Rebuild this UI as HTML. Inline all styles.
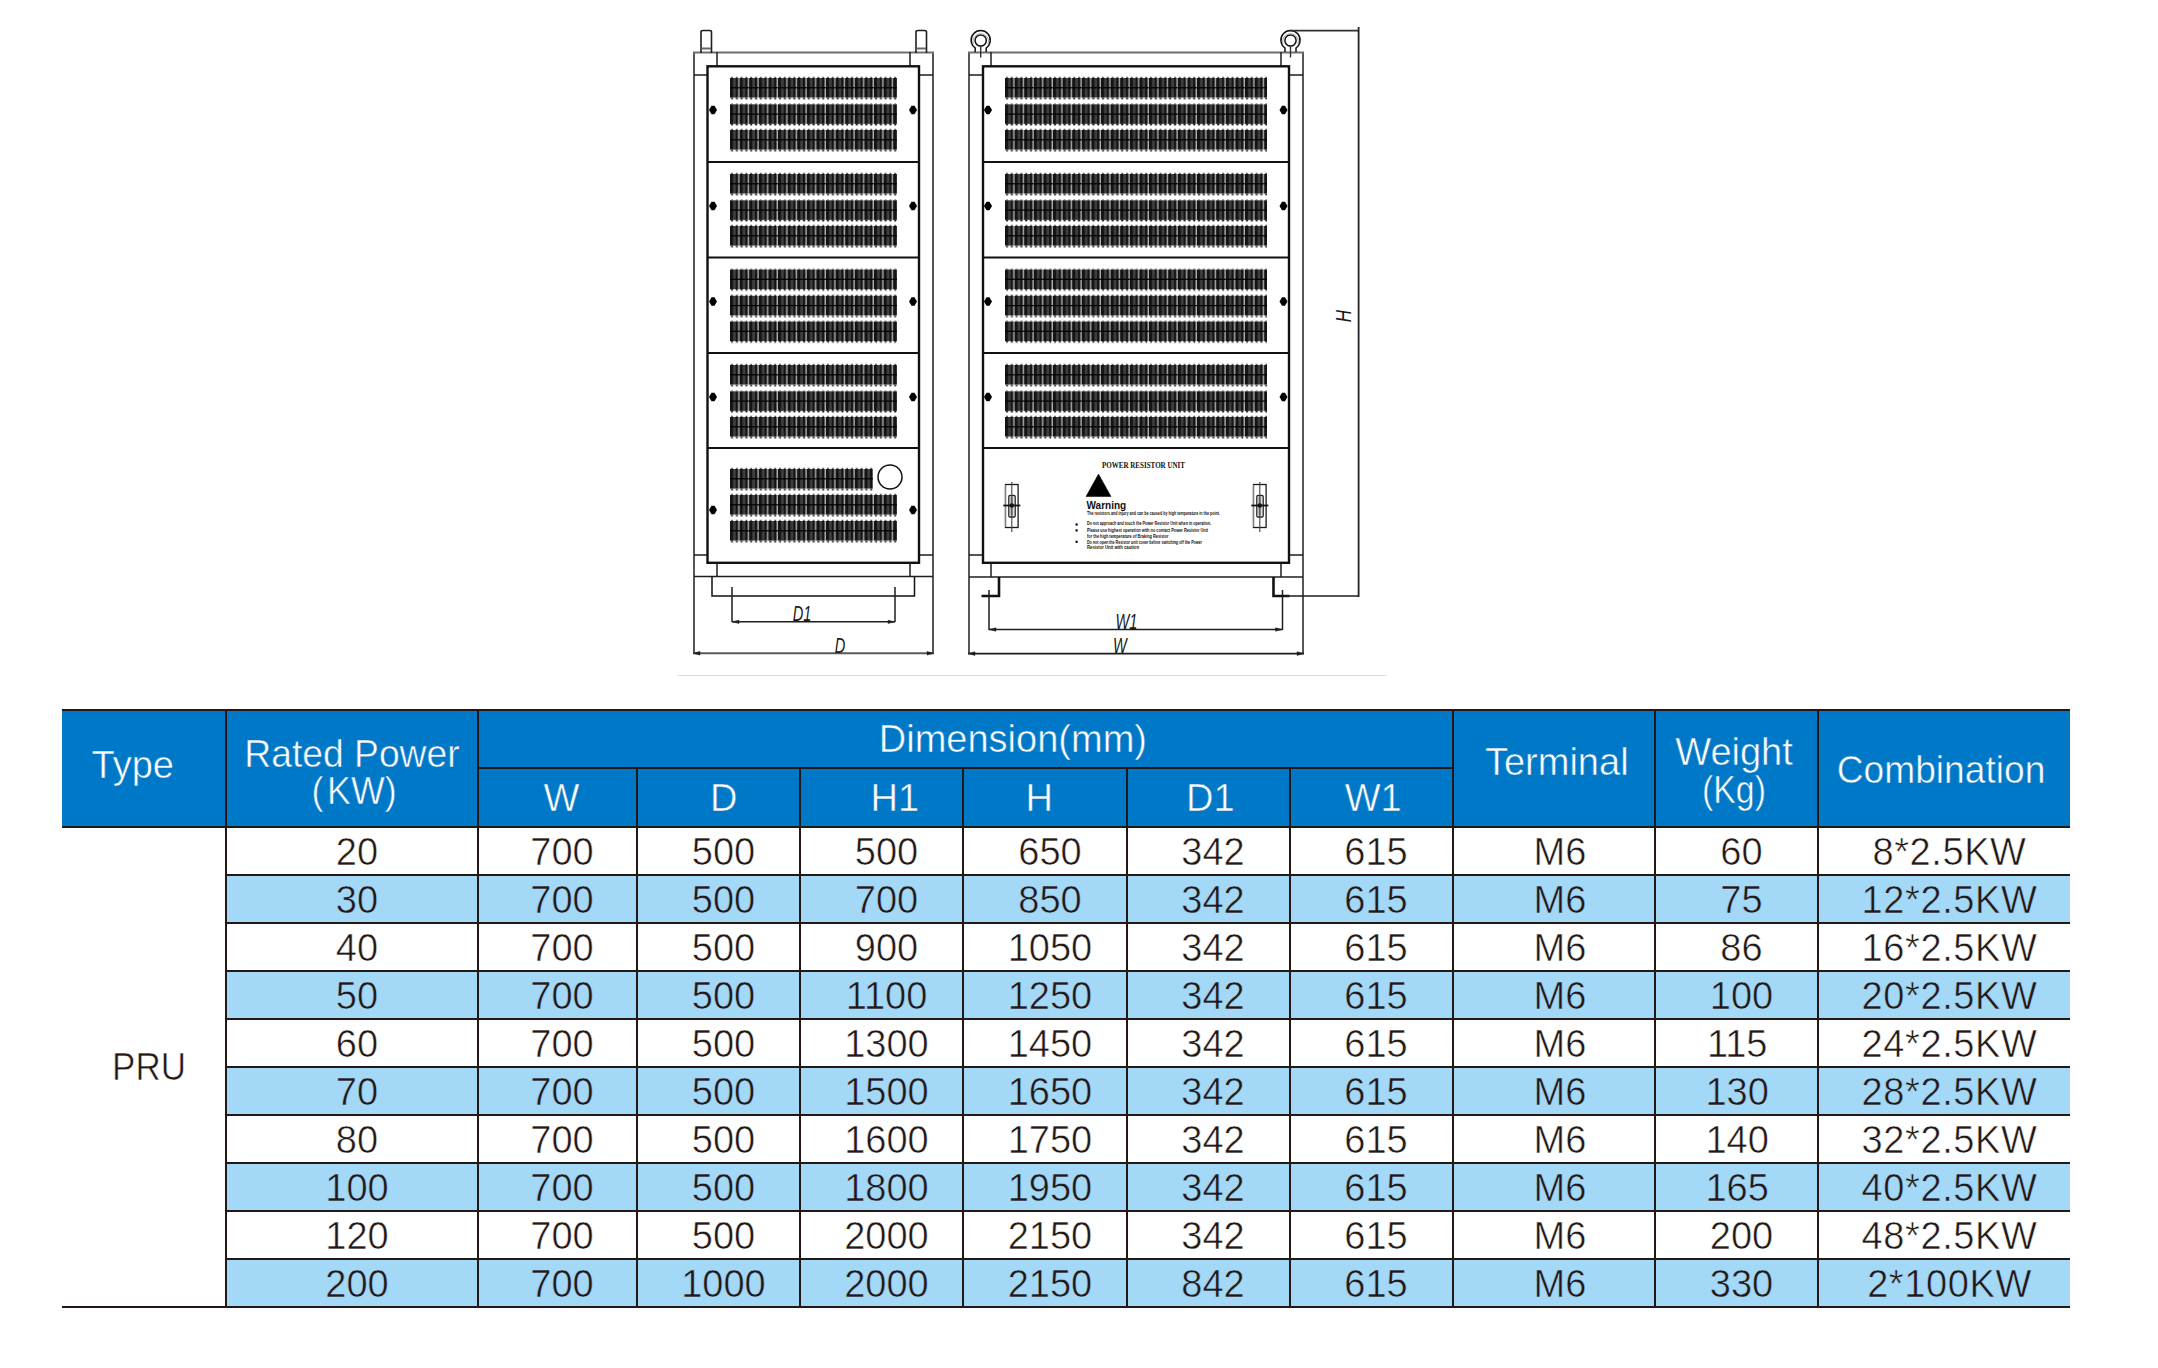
<!DOCTYPE html><html><head><meta charset="utf-8"><style>
html,body{margin:0;padding:0;background:#fff;}
body{width:2158px;height:1368px;position:relative;overflow:hidden;font-family:"Liberation Sans",sans-serif;}
.r{position:absolute;}
.t{position:absolute;width:1000px;text-align:center;white-space:nowrap;font-size:38px;line-height:38px;}
.w{color:#fff;-webkit-text-stroke:0.55px #0078c8;}
.k{color:#231815;-webkit-text-stroke:0.55px #fff;}
.kb{-webkit-text-stroke-color:#a3d9f7;}
</style></head><body>
<div class="r" style="left:62px;top:709px;width:2008px;height:119px;background:#0078c8"></div>
<div class="r" style="left:226px;top:874px;width:1844px;height:48px;background:#a3d9f7"></div>
<div class="r" style="left:226px;top:970px;width:1844px;height:48px;background:#a3d9f7"></div>
<div class="r" style="left:226px;top:1066px;width:1844px;height:48px;background:#a3d9f7"></div>
<div class="r" style="left:226px;top:1162px;width:1844px;height:48px;background:#a3d9f7"></div>
<div class="r" style="left:226px;top:1258px;width:1844px;height:48px;background:#a3d9f7"></div>
<div class="r" style="left:62px;top:709px;width:2008px;height:2px;background:#231815"></div>
<div class="r" style="left:477px;top:767px;width:976px;height:2px;background:#231815"></div>
<div class="r" style="left:62px;top:826px;width:2008px;height:2px;background:#231815"></div>
<div class="r" style="left:225px;top:874px;width:1845px;height:2px;background:#231815"></div>
<div class="r" style="left:225px;top:922px;width:1845px;height:2px;background:#231815"></div>
<div class="r" style="left:225px;top:970px;width:1845px;height:2px;background:#231815"></div>
<div class="r" style="left:225px;top:1018px;width:1845px;height:2px;background:#231815"></div>
<div class="r" style="left:225px;top:1066px;width:1845px;height:2px;background:#231815"></div>
<div class="r" style="left:225px;top:1114px;width:1845px;height:2px;background:#231815"></div>
<div class="r" style="left:225px;top:1162px;width:1845px;height:2px;background:#231815"></div>
<div class="r" style="left:225px;top:1210px;width:1845px;height:2px;background:#231815"></div>
<div class="r" style="left:225px;top:1258px;width:1845px;height:2px;background:#231815"></div>
<div class="r" style="left:62px;top:1306px;width:2008px;height:2px;background:#231815"></div>
<div class="r" style="left:225px;top:709px;width:2px;height:599px;background:#231815"></div>
<div class="r" style="left:477px;top:709px;width:2px;height:599px;background:#231815"></div>
<div class="r" style="left:1452px;top:709px;width:2px;height:599px;background:#231815"></div>
<div class="r" style="left:1654px;top:709px;width:2px;height:599px;background:#231815"></div>
<div class="r" style="left:1817px;top:709px;width:2px;height:599px;background:#231815"></div>
<div class="r" style="left:636px;top:767px;width:2px;height:541px;background:#231815"></div>
<div class="r" style="left:799px;top:767px;width:2px;height:541px;background:#231815"></div>
<div class="r" style="left:962px;top:767px;width:2px;height:541px;background:#231815"></div>
<div class="r" style="left:1126px;top:767px;width:2px;height:541px;background:#231815"></div>
<div class="r" style="left:1289px;top:767px;width:2px;height:541px;background:#231815"></div>
<div class="t w" style="left:-367.2px;top:746px;">Type</div>
<div class="t w" style="left:-148.4px;top:734.7px;transform:scaleX(0.98);">Rated Power</div>
<div class="t w" style="left:-146.5px;top:771.8px;transform:scaleX(0.94);">(<span style="margin-left:4px">KW)</span></div>
<div class="t w" style="left:512.9px;top:720px;">Dimension(mm)</div>
<div class="t w" style="left:61.5px;top:778.7px;">W</div>
<div class="t w" style="left:223.7px;top:778.7px;">D</div>
<div class="t w" style="left:394.8px;top:778.7px;">H1</div>
<div class="t w" style="left:539.2px;top:778.7px;">H</div>
<div class="t w" style="left:710.3px;top:778.7px;">D1</div>
<div class="t w" style="left:873.2px;top:778.7px;">W1</div>
<div class="t w" style="left:1056.8px;top:743px;">Terminal</div>
<div class="t w" style="left:1234px;top:733px;">Weight</div>
<div class="t w" style="left:1234px;top:771px;transform:scaleX(0.89);">(Kg)</div>
<div class="t w" style="left:1441.1px;top:751px;transform:scaleX(0.978);">Combination</div>
<div class="t k" style="left:-350.75px;top:1047.7px;transform:scaleX(0.92);">PRU</div>
<div class="t k" style="left:-143px;top:832.6px;">20</div>
<div class="t k" style="left:62px;top:832.6px;">700</div>
<div class="t k" style="left:223.5px;top:832.6px;">500</div>
<div class="t k" style="left:386.5px;top:832.6px;">500</div>
<div class="t k" style="left:550px;top:832.6px;">650</div>
<div class="t k" style="left:713px;top:832.6px;">342</div>
<div class="t k" style="left:876px;top:832.6px;">615</div>
<div class="t k" style="left:1060px;top:832.6px;">M6</div>
<div class="t k" style="left:1241.5px;top:832.6px;">60</div>
<div class="t k" style="left:1449.5px;top:832.6px;letter-spacing:0.6px;">8*2.5KW</div>
<div class="t k kb" style="left:-143px;top:880.6px;">30</div>
<div class="t k kb" style="left:62px;top:880.6px;">700</div>
<div class="t k kb" style="left:223.5px;top:880.6px;">500</div>
<div class="t k kb" style="left:386.5px;top:880.6px;">700</div>
<div class="t k kb" style="left:550px;top:880.6px;">850</div>
<div class="t k kb" style="left:713px;top:880.6px;">342</div>
<div class="t k kb" style="left:876px;top:880.6px;">615</div>
<div class="t k kb" style="left:1060px;top:880.6px;">M6</div>
<div class="t k kb" style="left:1241.5px;top:880.6px;">75</div>
<div class="t k kb" style="left:1449.5px;top:880.6px;letter-spacing:0.6px;">12*2.5KW</div>
<div class="t k" style="left:-143px;top:928.6px;">40</div>
<div class="t k" style="left:62px;top:928.6px;">700</div>
<div class="t k" style="left:223.5px;top:928.6px;">500</div>
<div class="t k" style="left:386.5px;top:928.6px;">900</div>
<div class="t k" style="left:550px;top:928.6px;">1050</div>
<div class="t k" style="left:713px;top:928.6px;">342</div>
<div class="t k" style="left:876px;top:928.6px;">615</div>
<div class="t k" style="left:1060px;top:928.6px;">M6</div>
<div class="t k" style="left:1241.5px;top:928.6px;">86</div>
<div class="t k" style="left:1449.5px;top:928.6px;letter-spacing:0.6px;">16*2.5KW</div>
<div class="t k kb" style="left:-143px;top:976.6px;">50</div>
<div class="t k kb" style="left:62px;top:976.6px;">700</div>
<div class="t k kb" style="left:223.5px;top:976.6px;">500</div>
<div class="t k kb" style="left:386.5px;top:976.6px;">1100</div>
<div class="t k kb" style="left:550px;top:976.6px;">1250</div>
<div class="t k kb" style="left:713px;top:976.6px;">342</div>
<div class="t k kb" style="left:876px;top:976.6px;">615</div>
<div class="t k kb" style="left:1060px;top:976.6px;">M6</div>
<div class="t k kb" style="left:1241.5px;top:976.6px;">100</div>
<div class="t k kb" style="left:1449.5px;top:976.6px;letter-spacing:0.6px;">20*2.5KW</div>
<div class="t k" style="left:-143px;top:1024.6px;">60</div>
<div class="t k" style="left:62px;top:1024.6px;">700</div>
<div class="t k" style="left:223.5px;top:1024.6px;">500</div>
<div class="t k" style="left:386.5px;top:1024.6px;">1300</div>
<div class="t k" style="left:550px;top:1024.6px;">1450</div>
<div class="t k" style="left:713px;top:1024.6px;">342</div>
<div class="t k" style="left:876px;top:1024.6px;">615</div>
<div class="t k" style="left:1060px;top:1024.6px;">M6</div>
<div class="t k" style="left:1237.2px;top:1024.6px;">115</div>
<div class="t k" style="left:1449.5px;top:1024.6px;letter-spacing:0.6px;">24*2.5KW</div>
<div class="t k kb" style="left:-143px;top:1072.6px;">70</div>
<div class="t k kb" style="left:62px;top:1072.6px;">700</div>
<div class="t k kb" style="left:223.5px;top:1072.6px;">500</div>
<div class="t k kb" style="left:386.5px;top:1072.6px;">1500</div>
<div class="t k kb" style="left:550px;top:1072.6px;">1650</div>
<div class="t k kb" style="left:713px;top:1072.6px;">342</div>
<div class="t k kb" style="left:876px;top:1072.6px;">615</div>
<div class="t k kb" style="left:1060px;top:1072.6px;">M6</div>
<div class="t k kb" style="left:1237.2px;top:1072.6px;">130</div>
<div class="t k kb" style="left:1449.5px;top:1072.6px;letter-spacing:0.6px;">28*2.5KW</div>
<div class="t k" style="left:-143px;top:1120.6px;">80</div>
<div class="t k" style="left:62px;top:1120.6px;">700</div>
<div class="t k" style="left:223.5px;top:1120.6px;">500</div>
<div class="t k" style="left:386.5px;top:1120.6px;">1600</div>
<div class="t k" style="left:550px;top:1120.6px;">1750</div>
<div class="t k" style="left:713px;top:1120.6px;">342</div>
<div class="t k" style="left:876px;top:1120.6px;">615</div>
<div class="t k" style="left:1060px;top:1120.6px;">M6</div>
<div class="t k" style="left:1237.2px;top:1120.6px;">140</div>
<div class="t k" style="left:1449.5px;top:1120.6px;letter-spacing:0.6px;">32*2.5KW</div>
<div class="t k kb" style="left:-143px;top:1168.6px;">100</div>
<div class="t k kb" style="left:62px;top:1168.6px;">700</div>
<div class="t k kb" style="left:223.5px;top:1168.6px;">500</div>
<div class="t k kb" style="left:386.5px;top:1168.6px;">1800</div>
<div class="t k kb" style="left:550px;top:1168.6px;">1950</div>
<div class="t k kb" style="left:713px;top:1168.6px;">342</div>
<div class="t k kb" style="left:876px;top:1168.6px;">615</div>
<div class="t k kb" style="left:1060px;top:1168.6px;">M6</div>
<div class="t k kb" style="left:1237.2px;top:1168.6px;">165</div>
<div class="t k kb" style="left:1449.5px;top:1168.6px;letter-spacing:0.6px;">40*2.5KW</div>
<div class="t k" style="left:-143px;top:1216.6px;">120</div>
<div class="t k" style="left:62px;top:1216.6px;">700</div>
<div class="t k" style="left:223.5px;top:1216.6px;">500</div>
<div class="t k" style="left:386.5px;top:1216.6px;">2000</div>
<div class="t k" style="left:550px;top:1216.6px;">2150</div>
<div class="t k" style="left:713px;top:1216.6px;">342</div>
<div class="t k" style="left:876px;top:1216.6px;">615</div>
<div class="t k" style="left:1060px;top:1216.6px;">M6</div>
<div class="t k" style="left:1241.5px;top:1216.6px;">200</div>
<div class="t k" style="left:1449.5px;top:1216.6px;letter-spacing:0.6px;">48*2.5KW</div>
<div class="t k kb" style="left:-143px;top:1264.6px;">200</div>
<div class="t k kb" style="left:62px;top:1264.6px;">700</div>
<div class="t k kb" style="left:223.5px;top:1264.6px;">1000</div>
<div class="t k kb" style="left:386.5px;top:1264.6px;">2000</div>
<div class="t k kb" style="left:550px;top:1264.6px;">2150</div>
<div class="t k kb" style="left:713px;top:1264.6px;">842</div>
<div class="t k kb" style="left:876px;top:1264.6px;">615</div>
<div class="t k kb" style="left:1060px;top:1264.6px;">M6</div>
<div class="t k kb" style="left:1241.5px;top:1264.6px;">330</div>
<div class="t k kb" style="left:1449.5px;top:1264.6px;letter-spacing:0.6px;">2*100KW</div>
<svg class="r" style="left:0;top:0" width="2158" height="1368" viewBox="0 0 2158 1368">
<defs>
<pattern id="lv" x="0" y="0" width="9.6" height="30" patternUnits="userSpaceOnUse"><rect x="0" y="0" width="9.6" height="30" fill="#141414"/><rect x="3.1" y="0" width="2.6" height="30" fill="#404040"/><rect x="8.2" y="0" width="1.3" height="30" fill="#c0c0c0"/></pattern>
<pattern id="lu" x="0" y="-1.2" width="4.8" height="1.2" patternUnits="userSpaceOnUse"><path d="M0.7,1.2 L2,0 L3.3,1.2 Z" fill="#333"/></pattern>
<pattern id="lt" x="0" y="19.6" width="4.8" height="2" patternUnits="userSpaceOnUse"><path d="M0.4,0 L3.6,0 L2,2 Z" fill="#1a1a1a"/></pattern>
</defs>
<line x1="694" y1="52" x2="694" y2="654" stroke="#1e1e1e" stroke-width="1.5"/>
<line x1="933" y1="52" x2="933" y2="654" stroke="#1e1e1e" stroke-width="1.5"/>
<line x1="693" y1="52.5" x2="934" y2="52.5" stroke="#707070" stroke-width="2.2"/>
<line x1="717" y1="52" x2="717" y2="66" stroke="#1e1e1e" stroke-width="1.5"/>
<line x1="910" y1="52" x2="910" y2="66" stroke="#1e1e1e" stroke-width="1.5"/>
<line x1="694" y1="75" x2="707" y2="75" stroke="#1e1e1e" stroke-width="1.5"/>
<line x1="919" y1="75" x2="933" y2="75" stroke="#1e1e1e" stroke-width="1.5"/>
<line x1="694" y1="555" x2="707" y2="555" stroke="#1e1e1e" stroke-width="1.5"/>
<line x1="919" y1="555" x2="933" y2="555" stroke="#1e1e1e" stroke-width="1.5"/>
<path d="M701,53 V32 Q701,30.5 703,30.5 H709.5 Q711.5,30.5 711.5,32 V53" stroke="#1e1e1e" stroke-width="1.6" fill="none"/>
<line x1="701.5" y1="48.5" x2="711" y2="48.5" stroke="#666" stroke-width="2"/>
<path d="M916,53 V32 Q916,30.5 918,30.5 H924.5 Q926.5,30.5 926.5,32 V53" stroke="#1e1e1e" stroke-width="1.6" fill="none"/>
<line x1="916.5" y1="48.5" x2="926" y2="48.5" stroke="#666" stroke-width="2"/>
<rect x="707.5" y="66.3" width="211.5" height="496.5" fill="none" stroke="#111" stroke-width="2.4"/>
<line x1="707" y1="162" x2="919" y2="162" stroke="#111" stroke-width="2.2"/>
<line x1="707" y1="257.5" x2="919" y2="257.5" stroke="#111" stroke-width="2.2"/>
<line x1="707" y1="353" x2="919" y2="353" stroke="#111" stroke-width="2.2"/>
<line x1="707" y1="448" x2="919" y2="448" stroke="#111" stroke-width="2.2"/>
<g transform="translate(730,78)"><rect x="0" y="0" width="167" height="19.6" fill="url(#lv)"/><rect x="0" y="9.20" width="167" height="1.2" fill="#000"/><rect x="0" y="19.6" width="167" height="2" fill="url(#lt)"/><rect x="0" y="-1.2" width="167" height="1.2" fill="url(#lu)"/></g>
<g transform="translate(730,104.3)"><rect x="0" y="0" width="167" height="19.6" fill="url(#lv)"/><rect x="0" y="9.20" width="167" height="1.2" fill="#000"/><rect x="0" y="19.6" width="167" height="2" fill="url(#lt)"/><rect x="0" y="-1.2" width="167" height="1.2" fill="url(#lu)"/></g>
<g transform="translate(730,130)"><rect x="0" y="0" width="167" height="19.6" fill="url(#lv)"/><rect x="0" y="9.20" width="167" height="1.2" fill="#000"/><rect x="0" y="19.6" width="167" height="2" fill="url(#lt)"/><rect x="0" y="-1.2" width="167" height="1.2" fill="url(#lu)"/></g>
<path d="M709,110 L711.5,105.8 H714.5 L717,110 L714.5,114.2 H711.5 Z" fill="#000"/>
<path d="M909,110 L911.5,105.8 H914.5 L917,110 L914.5,114.2 H911.5 Z" fill="#000"/>
<g transform="translate(730,174)"><rect x="0" y="0" width="167" height="19.6" fill="url(#lv)"/><rect x="0" y="9.20" width="167" height="1.2" fill="#000"/><rect x="0" y="19.6" width="167" height="2" fill="url(#lt)"/><rect x="0" y="-1.2" width="167" height="1.2" fill="url(#lu)"/></g>
<g transform="translate(730,200.3)"><rect x="0" y="0" width="167" height="19.6" fill="url(#lv)"/><rect x="0" y="9.20" width="167" height="1.2" fill="#000"/><rect x="0" y="19.6" width="167" height="2" fill="url(#lt)"/><rect x="0" y="-1.2" width="167" height="1.2" fill="url(#lu)"/></g>
<g transform="translate(730,226)"><rect x="0" y="0" width="167" height="19.6" fill="url(#lv)"/><rect x="0" y="9.20" width="167" height="1.2" fill="#000"/><rect x="0" y="19.6" width="167" height="2" fill="url(#lt)"/><rect x="0" y="-1.2" width="167" height="1.2" fill="url(#lu)"/></g>
<path d="M709,206 L711.5,201.8 H714.5 L717,206 L714.5,210.2 H711.5 Z" fill="#000"/>
<path d="M909,206 L911.5,201.8 H914.5 L917,206 L914.5,210.2 H911.5 Z" fill="#000"/>
<g transform="translate(730,269.5)"><rect x="0" y="0" width="167" height="19.6" fill="url(#lv)"/><rect x="0" y="9.20" width="167" height="1.2" fill="#000"/><rect x="0" y="19.6" width="167" height="2" fill="url(#lt)"/><rect x="0" y="-1.2" width="167" height="1.2" fill="url(#lu)"/></g>
<g transform="translate(730,295.8)"><rect x="0" y="0" width="167" height="19.6" fill="url(#lv)"/><rect x="0" y="9.20" width="167" height="1.2" fill="#000"/><rect x="0" y="19.6" width="167" height="2" fill="url(#lt)"/><rect x="0" y="-1.2" width="167" height="1.2" fill="url(#lu)"/></g>
<g transform="translate(730,321.5)"><rect x="0" y="0" width="167" height="19.6" fill="url(#lv)"/><rect x="0" y="9.20" width="167" height="1.2" fill="#000"/><rect x="0" y="19.6" width="167" height="2" fill="url(#lt)"/><rect x="0" y="-1.2" width="167" height="1.2" fill="url(#lu)"/></g>
<path d="M709,301.5 L711.5,297.3 H714.5 L717,301.5 L714.5,305.7 H711.5 Z" fill="#000"/>
<path d="M909,301.5 L911.5,297.3 H914.5 L917,301.5 L914.5,305.7 H911.5 Z" fill="#000"/>
<g transform="translate(730,365)"><rect x="0" y="0" width="167" height="19.6" fill="url(#lv)"/><rect x="0" y="9.20" width="167" height="1.2" fill="#000"/><rect x="0" y="19.6" width="167" height="2" fill="url(#lt)"/><rect x="0" y="-1.2" width="167" height="1.2" fill="url(#lu)"/></g>
<g transform="translate(730,391.3)"><rect x="0" y="0" width="167" height="19.6" fill="url(#lv)"/><rect x="0" y="9.20" width="167" height="1.2" fill="#000"/><rect x="0" y="19.6" width="167" height="2" fill="url(#lt)"/><rect x="0" y="-1.2" width="167" height="1.2" fill="url(#lu)"/></g>
<g transform="translate(730,417)"><rect x="0" y="0" width="167" height="19.6" fill="url(#lv)"/><rect x="0" y="9.20" width="167" height="1.2" fill="#000"/><rect x="0" y="19.6" width="167" height="2" fill="url(#lt)"/><rect x="0" y="-1.2" width="167" height="1.2" fill="url(#lu)"/></g>
<path d="M709,397 L711.5,392.8 H714.5 L717,397 L714.5,401.2 H711.5 Z" fill="#000"/>
<path d="M909,397 L911.5,392.8 H914.5 L917,397 L914.5,401.2 H911.5 Z" fill="#000"/>
<g transform="translate(730,469)"><rect x="0" y="0" width="143" height="19.6" fill="url(#lv)"/><rect x="0" y="9.20" width="143" height="1.2" fill="#000"/><rect x="0" y="19.6" width="143" height="2" fill="url(#lt)"/><rect x="0" y="-1.2" width="143" height="1.2" fill="url(#lu)"/></g>
<g transform="translate(730,495)"><rect x="0" y="0" width="167" height="19.6" fill="url(#lv)"/><rect x="0" y="9.20" width="167" height="1.2" fill="#000"/><rect x="0" y="19.6" width="167" height="2" fill="url(#lt)"/><rect x="0" y="-1.2" width="167" height="1.2" fill="url(#lu)"/></g>
<g transform="translate(730,521)"><rect x="0" y="0" width="167" height="19.6" fill="url(#lv)"/><rect x="0" y="9.20" width="167" height="1.2" fill="#000"/><rect x="0" y="19.6" width="167" height="2" fill="url(#lt)"/><rect x="0" y="-1.2" width="167" height="1.2" fill="url(#lu)"/></g>
<circle cx="890" cy="477" r="12" fill="none" stroke="#111" stroke-width="1.5"/>
<path d="M709,510 L711.5,505.8 H714.5 L717,510 L714.5,514.2 H711.5 Z" fill="#000"/>
<path d="M909,510 L911.5,505.8 H914.5 L917,510 L914.5,514.2 H911.5 Z" fill="#000"/>
<path d="M717,563 V576.5 M910,563 V576.5" stroke="#1e1e1e" stroke-width="1.5" fill="none"/>
<line x1="694" y1="576.5" x2="933" y2="576.5" stroke="#1e1e1e" stroke-width="1.5"/>
<path d="M712,576.5 V596 H914.5 V576.5" stroke="#111" stroke-width="1.5" fill="none"/>
<line x1="732" y1="587" x2="732" y2="622" stroke="#1e1e1e" stroke-width="1.5"/>
<line x1="895" y1="587" x2="895" y2="622" stroke="#1e1e1e" stroke-width="1.5"/>
<line x1="732" y1="621.8" x2="895" y2="621.8" stroke="#1e1e1e" stroke-width="1.4"/>
<path d="M732,621.8 l7,-1.6 v3.2 z M895,621.8 l-7,-1.6 v3.2 z" stroke="#1e1e1e" stroke-width="0.5" fill="#1e1e1e"/>
<line x1="693" y1="653.3" x2="934" y2="653.3" stroke="#5a5a5a" stroke-width="2"/>
<path d="M693,653.3 l7,-1.8 v3.6 z M934,653.3 l-7,-1.8 v3.6 z" stroke="#1e1e1e" stroke-width="0.5" fill="#1e1e1e"/>
<line x1="969" y1="52" x2="969" y2="654" stroke="#1e1e1e" stroke-width="1.5"/>
<line x1="1303" y1="52" x2="1303" y2="654" stroke="#1e1e1e" stroke-width="1.5"/>
<line x1="968" y1="52.5" x2="1304" y2="52.5" stroke="#707070" stroke-width="2.2"/>
<line x1="991" y1="52" x2="991" y2="66" stroke="#1e1e1e" stroke-width="1.5"/>
<line x1="1281" y1="52" x2="1281" y2="66" stroke="#1e1e1e" stroke-width="1.5"/>
<line x1="969" y1="75" x2="983" y2="75" stroke="#1e1e1e" stroke-width="1.5"/>
<line x1="1289" y1="75" x2="1303" y2="75" stroke="#1e1e1e" stroke-width="1.5"/>
<line x1="969" y1="555" x2="983" y2="555" stroke="#1e1e1e" stroke-width="1.5"/>
<line x1="1289" y1="555" x2="1303" y2="555" stroke="#1e1e1e" stroke-width="1.5"/>
<path d="M975.2,52 V48 A9.6,9.6 0 1 1 986.2,48 V52" fill="none" stroke="#111" stroke-width="1.5"/>
<circle cx="980.7" cy="40.5" r="5.6" fill="none" stroke="#111" stroke-width="1.5"/>
<path d="M973.3000000000001,44 A7.8,7.8 0 1 1 988.1,44" fill="none" stroke="#999" stroke-width="0.9"/>
<line x1="980.7" y1="46" x2="980.7" y2="57.5" stroke="#333" stroke-width="1.4"/>
<path d="M1285.0,52 V48 A9.6,9.6 0 1 1 1296.0,48 V52" fill="none" stroke="#111" stroke-width="1.5"/>
<circle cx="1290.5" cy="40.5" r="5.6" fill="none" stroke="#111" stroke-width="1.5"/>
<path d="M1283.1,44 A7.8,7.8 0 1 1 1297.9,44" fill="none" stroke="#999" stroke-width="0.9"/>
<line x1="1290.5" y1="46" x2="1290.5" y2="57.5" stroke="#333" stroke-width="1.4"/>
<rect x="983" y="66.3" width="306" height="496.5" fill="none" stroke="#111" stroke-width="2.4"/>
<line x1="983" y1="162" x2="1289" y2="162" stroke="#111" stroke-width="2.2"/>
<line x1="983" y1="257.5" x2="1289" y2="257.5" stroke="#111" stroke-width="2.2"/>
<line x1="983" y1="353" x2="1289" y2="353" stroke="#111" stroke-width="2.2"/>
<line x1="983" y1="448" x2="1289" y2="448" stroke="#111" stroke-width="2.2"/>
<g transform="translate(1005,78)"><rect x="0" y="0" width="262" height="19.6" fill="url(#lv)"/><rect x="0" y="9.20" width="262" height="1.2" fill="#000"/><rect x="0" y="19.6" width="262" height="2" fill="url(#lt)"/><rect x="0" y="-1.2" width="262" height="1.2" fill="url(#lu)"/></g>
<g transform="translate(1005,104.3)"><rect x="0" y="0" width="262" height="19.6" fill="url(#lv)"/><rect x="0" y="9.20" width="262" height="1.2" fill="#000"/><rect x="0" y="19.6" width="262" height="2" fill="url(#lt)"/><rect x="0" y="-1.2" width="262" height="1.2" fill="url(#lu)"/></g>
<g transform="translate(1005,130)"><rect x="0" y="0" width="262" height="19.6" fill="url(#lv)"/><rect x="0" y="9.20" width="262" height="1.2" fill="#000"/><rect x="0" y="19.6" width="262" height="2" fill="url(#lt)"/><rect x="0" y="-1.2" width="262" height="1.2" fill="url(#lu)"/></g>
<path d="M984,110 L986.5,105.8 H989.5 L992,110 L989.5,114.2 H986.5 Z" fill="#000"/>
<path d="M1279.5,110 L1282.0,105.8 H1285.0 L1287.5,110 L1285.0,114.2 H1282.0 Z" fill="#000"/>
<g transform="translate(1005,174)"><rect x="0" y="0" width="262" height="19.6" fill="url(#lv)"/><rect x="0" y="9.20" width="262" height="1.2" fill="#000"/><rect x="0" y="19.6" width="262" height="2" fill="url(#lt)"/><rect x="0" y="-1.2" width="262" height="1.2" fill="url(#lu)"/></g>
<g transform="translate(1005,200.3)"><rect x="0" y="0" width="262" height="19.6" fill="url(#lv)"/><rect x="0" y="9.20" width="262" height="1.2" fill="#000"/><rect x="0" y="19.6" width="262" height="2" fill="url(#lt)"/><rect x="0" y="-1.2" width="262" height="1.2" fill="url(#lu)"/></g>
<g transform="translate(1005,226)"><rect x="0" y="0" width="262" height="19.6" fill="url(#lv)"/><rect x="0" y="9.20" width="262" height="1.2" fill="#000"/><rect x="0" y="19.6" width="262" height="2" fill="url(#lt)"/><rect x="0" y="-1.2" width="262" height="1.2" fill="url(#lu)"/></g>
<path d="M984,206 L986.5,201.8 H989.5 L992,206 L989.5,210.2 H986.5 Z" fill="#000"/>
<path d="M1279.5,206 L1282.0,201.8 H1285.0 L1287.5,206 L1285.0,210.2 H1282.0 Z" fill="#000"/>
<g transform="translate(1005,269.5)"><rect x="0" y="0" width="262" height="19.6" fill="url(#lv)"/><rect x="0" y="9.20" width="262" height="1.2" fill="#000"/><rect x="0" y="19.6" width="262" height="2" fill="url(#lt)"/><rect x="0" y="-1.2" width="262" height="1.2" fill="url(#lu)"/></g>
<g transform="translate(1005,295.8)"><rect x="0" y="0" width="262" height="19.6" fill="url(#lv)"/><rect x="0" y="9.20" width="262" height="1.2" fill="#000"/><rect x="0" y="19.6" width="262" height="2" fill="url(#lt)"/><rect x="0" y="-1.2" width="262" height="1.2" fill="url(#lu)"/></g>
<g transform="translate(1005,321.5)"><rect x="0" y="0" width="262" height="19.6" fill="url(#lv)"/><rect x="0" y="9.20" width="262" height="1.2" fill="#000"/><rect x="0" y="19.6" width="262" height="2" fill="url(#lt)"/><rect x="0" y="-1.2" width="262" height="1.2" fill="url(#lu)"/></g>
<path d="M984,301.5 L986.5,297.3 H989.5 L992,301.5 L989.5,305.7 H986.5 Z" fill="#000"/>
<path d="M1279.5,301.5 L1282.0,297.3 H1285.0 L1287.5,301.5 L1285.0,305.7 H1282.0 Z" fill="#000"/>
<g transform="translate(1005,365)"><rect x="0" y="0" width="262" height="19.6" fill="url(#lv)"/><rect x="0" y="9.20" width="262" height="1.2" fill="#000"/><rect x="0" y="19.6" width="262" height="2" fill="url(#lt)"/><rect x="0" y="-1.2" width="262" height="1.2" fill="url(#lu)"/></g>
<g transform="translate(1005,391.3)"><rect x="0" y="0" width="262" height="19.6" fill="url(#lv)"/><rect x="0" y="9.20" width="262" height="1.2" fill="#000"/><rect x="0" y="19.6" width="262" height="2" fill="url(#lt)"/><rect x="0" y="-1.2" width="262" height="1.2" fill="url(#lu)"/></g>
<g transform="translate(1005,417)"><rect x="0" y="0" width="262" height="19.6" fill="url(#lv)"/><rect x="0" y="9.20" width="262" height="1.2" fill="#000"/><rect x="0" y="19.6" width="262" height="2" fill="url(#lt)"/><rect x="0" y="-1.2" width="262" height="1.2" fill="url(#lu)"/></g>
<path d="M984,397 L986.5,392.8 H989.5 L992,397 L989.5,401.2 H986.5 Z" fill="#000"/>
<path d="M1279.5,397 L1282.0,392.8 H1285.0 L1287.5,397 L1285.0,401.2 H1282.0 Z" fill="#000"/>
<text x="1143.5" y="467.5" font-family="Liberation Serif" font-weight="bold" font-size="7.5" text-anchor="middle" textLength="83" lengthAdjust="spacingAndGlyphs" fill="#111">POWER RESISTOR UNIT</text>
<path d="M1098.5,474 L1111,496.5 H1086 Z" stroke="#000" stroke-width="0.5" fill="#000"/>
<text x="1086.5" y="508.5" font-family="Liberation Sans" font-weight="bold" font-size="10" fill="#111">Warning</text>
<text x="1087" y="515.4" font-family="Liberation Sans" font-weight="bold" font-size="5" textLength="133" lengthAdjust="spacingAndGlyphs" fill="#111">The resistors and injury and can be caused by high temperature in the point.</text>
<text x="1087" y="525.2" font-family="Liberation Sans" font-weight="bold" font-size="5" textLength="124" lengthAdjust="spacingAndGlyphs" fill="#111">Do not approach and touch the Power Resistor Unit when in operation.</text>
<text x="1087" y="532.1" font-family="Liberation Sans" font-weight="bold" font-size="5" textLength="121" lengthAdjust="spacingAndGlyphs" fill="#111">Please use highest operation with no contact Power Resistor Unit</text>
<text x="1087" y="537.8" font-family="Liberation Sans" font-weight="bold" font-size="5" textLength="81.5" lengthAdjust="spacingAndGlyphs" fill="#111">for the high temperature of Braking Resistor</text>
<text x="1087" y="543.5" font-family="Liberation Sans" font-weight="bold" font-size="5" textLength="115" lengthAdjust="spacingAndGlyphs" fill="#111">Do not open the Resistor unit cover before switching off the Power</text>
<text x="1087" y="549.0" font-family="Liberation Sans" font-weight="bold" font-size="5" textLength="52" lengthAdjust="spacingAndGlyphs" fill="#111">Resistor Unit with caution</text>
<rect x="1075.5" y="523.4" width="2.2" height="2.2" fill="#111"/>
<rect x="1075.5" y="529.3" width="2.2" height="2.2" fill="#111"/>
<rect x="1075.5" y="540.7" width="2.2" height="2.2" fill="#111"/>
<rect x="1005.5" y="484.5" width="12.6" height="43" fill="none" stroke="#1a1a1a" stroke-width="1.3"/>
<rect x="1004.8" y="485" width="1" height="42" fill="#999"/>
<rect x="1008.8" y="495.5" width="6.4" height="21.5" rx="1.2" fill="none" stroke="#222" stroke-width="1.3"/>
<rect x="1010.1999999999999" y="497" width="3.2" height="18.5" fill="#aaa"/>
<line x1="1011.8" y1="482" x2="1011.8" y2="532" stroke="#444" stroke-width="1.1"/>
<line x1="1003.3" y1="505.5" x2="1020.3" y2="505.5" stroke="#111" stroke-width="1.8"/>
<circle cx="1011.8" cy="505.5" r="2.2" fill="#111"/>
<rect x="1253.5" y="484.5" width="12.6" height="43" fill="none" stroke="#1a1a1a" stroke-width="1.3"/>
<rect x="1252.8" y="485" width="1" height="42" fill="#999"/>
<rect x="1256.8" y="495.5" width="6.4" height="21.5" rx="1.2" fill="none" stroke="#222" stroke-width="1.3"/>
<rect x="1258.2" y="497" width="3.2" height="18.5" fill="#aaa"/>
<line x1="1259.8" y1="482" x2="1259.8" y2="532" stroke="#444" stroke-width="1.1"/>
<line x1="1251.3" y1="505.5" x2="1268.3" y2="505.5" stroke="#111" stroke-width="1.8"/>
<circle cx="1259.8" cy="505.5" r="2.2" fill="#111"/>
<path d="M991,563 V577 M1281,563 V577" stroke="#1e1e1e" stroke-width="1.5" fill="none"/>
<line x1="969" y1="577" x2="1303" y2="577" stroke="#1e1e1e" stroke-width="1.5"/>
<path d="M999,577 V596 H981.5" stroke="#111" stroke-width="2.6" fill="none"/>
<path d="M1273.5,577 V596 H1289.5" stroke="#111" stroke-width="2.6" fill="none"/>
<line x1="989" y1="590" x2="989" y2="630" stroke="#1e1e1e" stroke-width="1.5"/>
<line x1="1282.5" y1="590" x2="1282.5" y2="630" stroke="#1e1e1e" stroke-width="1.5"/>
<line x1="989" y1="629.5" x2="1282.5" y2="629.5" stroke="#1e1e1e" stroke-width="1.5"/>
<path d="M989,629.5 l7,-1.7 v3.4 z M1282.5,629.5 l-7,-1.7 v3.4 z" stroke="#1e1e1e" stroke-width="0.5" fill="#1e1e1e"/>
<line x1="968" y1="653.6" x2="1304" y2="653.6" stroke="#1e1e1e" stroke-width="1.6"/>
<path d="M968,653.6 l7,-1.8 v3.6 z M1304,653.6 l-7,-1.8 v3.6 z" stroke="#1e1e1e" stroke-width="0.5" fill="#1e1e1e"/>
<line x1="1290" y1="30.7" x2="1359" y2="30.7" stroke="#333" stroke-width="1.8"/>
<line x1="1358.6" y1="27" x2="1358.6" y2="597" stroke="#222" stroke-width="1.8"/>
<line x1="1284" y1="596" x2="1359" y2="596" stroke="#1e1e1e" stroke-width="1.3"/>
<text x="802" y="621" font-family="Liberation Sans" font-style="italic" font-size="21.5" fill="#1a1a1a" transform="translate(802,621) scale(0.68,1) translate(-802,-621)" text-anchor="middle">D1</text>
<text x="840" y="653" font-family="Liberation Sans" font-style="italic" font-size="21.5" fill="#1a1a1a" transform="translate(840,653) scale(0.68,1) translate(-840,-653)" text-anchor="middle">D</text>
<text x="1126.5" y="629" font-family="Liberation Sans" font-style="italic" font-size="21.5" fill="#1a1a1a" transform="translate(1126.5,629) scale(0.68,1) translate(-1126.5,-629)" text-anchor="middle">W1</text>
<text x="1120" y="653" font-family="Liberation Sans" font-style="italic" font-size="21.5" fill="#1a1a1a" transform="translate(1120,653) scale(0.68,1) translate(-1120,-653)" text-anchor="middle">W</text>
<text x="0" y="0" font-family="Liberation Sans" font-style="italic" font-size="22.5" fill="#1a1a1a" text-anchor="middle" transform="translate(1350.8,316.2) rotate(-90) scale(0.76,1)">H</text>
<line x1="678" y1="675.5" x2="1386" y2="675.5" stroke="#d9d9d9" stroke-width="1"/>
</svg>
</body></html>
